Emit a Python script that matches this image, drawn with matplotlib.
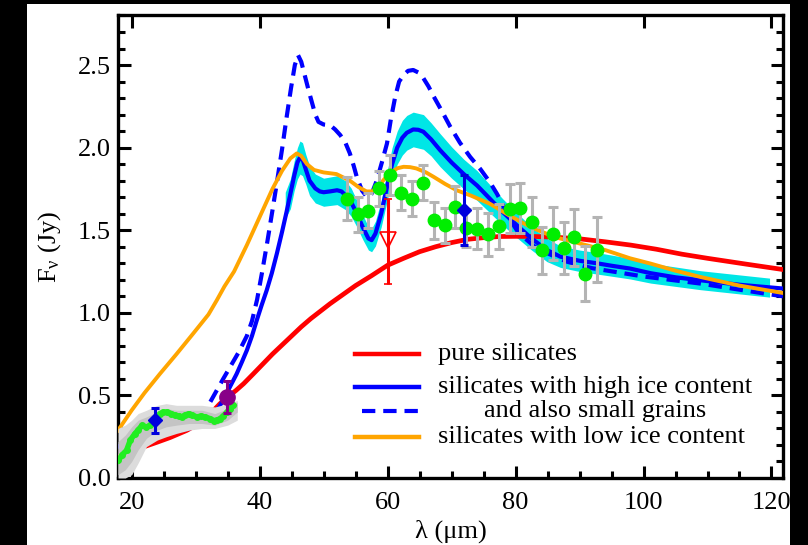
import numpy as np
import matplotlib.pyplot as plt
from matplotlib.patches import Rectangle
from matplotlib.lines import Line2D
from matplotlib.ticker import MultipleLocator

plt.rcParams['font.family'] = 'Liberation Serif'
plt.rcParams['mathtext.fontset'] = 'custom'
plt.rcParams['mathtext.rm'] = 'Liberation Serif'
plt.rcParams['mathtext.it'] = 'Liberation Serif:italic'

# model: pure silicates
red_x = [17.86, 20, 22, 24, 26, 28.6, 30.5, 32.2, 33.8, 35, 36.3, 37.5, 39, 40.5, 42, 43.5,
         45, 46.5, 48, 49.5, 51, 53, 55, 57.5, 60, 62.5, 65, 67.5, 70, 72.5, 75, 77.5, 80,
         83, 86, 90, 94, 98, 102, 106, 110, 116, 121.8]
red_y = [0.13, 0.16, 0.19, 0.217, 0.245, 0.288, 0.33, 0.385, 0.45, 0.49, 0.53, 0.571,
         0.63, 0.69, 0.75, 0.805, 0.86, 0.915, 0.965, 1.01, 1.055, 1.11, 1.165, 1.225,
         1.288, 1.33, 1.37, 1.40, 1.425, 1.445, 1.455, 1.462, 1.463, 1.462, 1.458, 1.448,
         1.43, 1.41, 1.385, 1.355, 1.33, 1.295, 1.262]

# model: high ice content
blue_x = [17.86, 20, 22, 25.5, 29, 31, 32.5, 33.7, 34.8, 35.6, 36.4, 37.2, 38.0, 38.8,
          39.55, 40.3, 41.1, 41.9, 42.7, 43.5, 44.2, 44.8, 45.4, 45.9, 46.3, 46.7, 47.2,
          47.8, 48.7, 49.4, 50.0, 51.0, 52.1, 52.8, 53.4, 54.3, 55.2, 56.1, 57.0, 57.5,
          58.1, 59.0, 59.9, 60.7, 61.5, 62.3, 63.0, 64.0, 64.8, 65.6, 66.8, 68.2, 70.0,
          71.9, 74.0, 76.0, 78.0, 80.2, 82.5, 84.9, 87.0, 90.0, 92.7, 95.0, 97.9, 101.1,
          105.0, 108.9, 115.0, 121.8]
blue_y = [0.19, 0.215, 0.24, 0.27, 0.30, 0.33, 0.37, 0.43, 0.51, 0.57, 0.63, 0.70, 0.773,
          0.86, 0.955, 1.045, 1.136, 1.24, 1.36, 1.49, 1.61, 1.72, 1.83, 1.91, 1.94, 1.93,
          1.87, 1.80, 1.753, 1.735, 1.73, 1.735, 1.742, 1.735, 1.712, 1.67, 1.60, 1.52,
          1.45, 1.44, 1.48, 1.60, 1.762, 1.90, 2.0, 2.06, 2.09, 2.11, 2.108, 2.096, 2.05,
          1.985, 1.91, 1.84, 1.77, 1.69, 1.61, 1.53, 1.45, 1.38, 1.34, 1.315, 1.30, 1.285,
          1.268, 1.24, 1.215, 1.197, 1.17, 1.147]

# uncertainty band of the high ice model
band_x = [44.0, 44.8, 45.4, 45.9, 46.3, 46.7, 47.2, 47.8, 48.7, 50.0, 52.1, 53.4, 54.3,
          55.2, 56.1, 57.0, 57.5, 58.1, 59.0, 59.9, 60.7, 61.5, 62.3, 63.0, 64.0, 65.6,
          66.8, 68.2, 70.0, 71.9, 74.0, 76.0, 78.0, 80.2, 82.5, 84.9, 87.0, 90.0, 92.7,
          97.9, 101.1, 108.9, 119.7]
band_lo = [1.57, 1.63, 1.74, 1.81, 1.84, 1.83, 1.78, 1.71, 1.665, 1.645, 1.655, 1.625,
           1.585, 1.52, 1.445, 1.38, 1.37, 1.405, 1.52, 1.675, 1.805, 1.90, 1.955, 1.985,
           2.005, 1.99, 1.95, 1.885, 1.815, 1.75, 1.68, 1.605, 1.53, 1.455, 1.38, 1.31,
           1.275, 1.25, 1.235, 1.205, 1.18, 1.14, 1.095]
band_hi = [1.73, 1.81, 1.92, 2.0, 2.04, 2.03, 1.96, 1.89, 1.84, 1.815, 1.83, 1.80, 1.755,
           1.68, 1.595, 1.52, 1.51, 1.555, 1.68, 1.85, 2.0, 2.10, 2.165, 2.195, 2.215,
           2.20, 2.15, 2.085, 2.005, 1.93, 1.86, 1.775, 1.69, 1.605, 1.52, 1.45, 1.405,
           1.38, 1.365, 1.33, 1.30, 1.255, 1.21]

# model: high ice + small grains
dash_x = [17.86, 22, 25.5, 29, 31.7, 33, 34.3, 35.5, 36.7, 38.0, 38.8, 39.6, 40.4, 41.2,
          42.0, 42.7, 43.5, 44.2, 44.9, 45.5, 46.0, 46.5, 47.1, 47.7, 48.2, 48.7, 49.2,
          50.0, 51.0, 51.8, 52.6, 53.4, 54.1, 54.7, 55.2, 56.0, 56.8, 57.5, 58.3, 59.1,
          59.9, 60.5, 61.2, 61.8, 62.5, 63.2, 64.0, 64.8, 65.6, 66.4, 67.2, 68.5, 69.8,
          71.3, 72.9, 74.5, 76.0, 77.1, 78.2, 79.2, 80.2, 81.5, 83.0, 85.0, 88.0, 92.0,
          96.0, 100.0, 108.9, 115.0, 121.8]
dash_y = [0.19, 0.24, 0.27, 0.32, 0.42, 0.51, 0.60, 0.68, 0.76, 0.86, 0.95, 1.08, 1.25,
          1.43, 1.62, 1.79, 1.99, 2.18, 2.36, 2.50, 2.56, 2.52, 2.43, 2.34, 2.27, 2.20,
          2.156, 2.14, 2.136, 2.11, 2.076, 2.03, 1.965, 1.89, 1.82, 1.74, 1.70, 1.72, 1.80,
          1.91, 2.025, 2.17, 2.31, 2.40, 2.44, 2.465, 2.47, 2.455, 2.42, 2.37, 2.31, 2.22,
          2.126, 2.03, 1.944, 1.87, 1.79, 1.72, 1.64, 1.56, 1.50, 1.45, 1.40, 1.36, 1.31,
          1.27, 1.245, 1.22, 1.177, 1.14, 1.10]

# model: low ice content
orange_x = [17.86, 20, 22, 24.4, 27, 29.6, 32, 33.3, 34.5, 36, 38, 40, 42, 43.5, 44.8, 45.8,
            46.5, 47.4, 48.5, 50, 52, 54.1, 55.5, 56.7, 57.5, 58.3, 59.5, 60.4, 61.5, 62.5,
            63.5, 64.5, 66, 67.2, 69, 70.8, 73, 76, 79, 82.3, 86, 90, 94, 97.9, 101.1, 105,
            108.9, 115, 121.8]
orange_y = [0.288, 0.41, 0.515, 0.63, 0.75, 0.874, 0.99, 1.076, 1.16, 1.25, 1.41,
            1.58, 1.75, 1.86, 1.935, 1.965, 1.95, 1.90, 1.865, 1.85, 1.84, 1.80, 1.76,
            1.735, 1.735, 1.753, 1.81, 1.844, 1.875, 1.884, 1.882, 1.874, 1.85, 1.823, 1.78,
            1.742, 1.71, 1.66, 1.59, 1.52, 1.46, 1.42, 1.38, 1.33, 1.298, 1.255, 1.217,
            1.165, 1.12]

# IRS spectrum with uncertainty bands
irs_x = [17.9, 18.5, 19.2, 19.8, 20.5, 21.0, 21.6, 22.3, 22.9, 23.4, 23.9, 24.4, 24.9,
         25.5, 26.2, 26.8, 27.4, 27.8, 28.3, 28.9, 29.5, 30.2, 30.8, 31.5, 32.2, 32.8,
         33.3, 33.8, 34.3, 34.9, 35.4, 35.9]
irs_y = [0.106, 0.14, 0.167, 0.23, 0.268, 0.29, 0.318, 0.308, 0.32, 0.338, 0.36, 0.389,
         0.399, 0.399, 0.39, 0.379, 0.375, 0.369, 0.38, 0.389, 0.38, 0.369, 0.375, 0.369,
         0.36, 0.348, 0.35, 0.359, 0.375, 0.399, 0.42, 0.44]
irs_band_x = [17.86, 19.0, 20.0, 21.0, 22.3, 24.0, 25.4, 27.0, 29.0, 31.0, 33.0, 35.0, 36.5]
irs_out_lo = [0.0, 0.0, 0.02, 0.09, 0.19, 0.23, 0.25, 0.27, 0.29, 0.30, 0.30, 0.32, 0.35]
irs_out_hi = [0.30, 0.32, 0.35, 0.39, 0.41, 0.44, 0.45, 0.44, 0.44, 0.44, 0.43, 0.45, 0.47]
irs_in_lo = [0.02, 0.05, 0.10, 0.17, 0.24, 0.29, 0.31, 0.32, 0.33, 0.33, 0.32, 0.35, 0.40]
irs_in_hi = [0.22, 0.26, 0.31, 0.35, 0.37, 0.40, 0.42, 0.41, 0.41, 0.41, 0.39, 0.42, 0.46]

# PACS spectrum points
pacs_x = [53.6, 55.35, 57.0, 58.7, 60.4, 62.15, 63.8, 65.5, 67.2, 68.9, 70.6, 72.3, 74.0,
          75.7, 77.35, 79.1, 80.7, 82.5, 84.1, 85.9, 87.5, 89.2, 90.9, 92.7]
pacs_y = [1.692, 1.597, 1.617, 1.753, 1.833, 1.726, 1.692, 1.787, 1.56, 1.53, 1.641,
          1.514, 1.51, 1.476, 1.524, 1.631, 1.635, 1.55, 1.379, 1.48, 1.393, 1.456, 1.237,
          1.383]
pacs_err = [0.131, 0.106, 0.106, 0.106, 0.121, 0.106, 0.106, 0.106, 0.111, 0.106, 0.126,
            0.116, 0.126, 0.131, 0.136, 0.146, 0.15, 0.15, 0.141, 0.16, 0.158, 0.17, 0.167,
            0.197]

# photometry
phot_blue_x = [23.6, 71.9]
phot_blue_y = [0.35, 1.62]
phot_blue_err = [0.076, 0.212]
phot_purple_x = [34.86]
phot_purple_y = [0.49]
phot_purple_err = [0.095]
phot_red_x = [60.0]
phot_red_y = [1.44]
phot_red_lo = [0.263]
phot_red_hi = [0.252]

fig = plt.figure(figsize=(8.08, 5.45), dpi=100, facecolor='black')
fig.patches.append(Rectangle((27 / 808, 0), (790 - 27) / 808, 541 / 545,
                             transform=fig.transFigure, facecolor='white',
                             edgecolor='none', zorder=-5))
ax = fig.add_axes([118 / 808, 1 - 478 / 545, 665 / 808, 463 / 545])
ax.set_zorder(1)
ax.set_facecolor('white')

ax.fill_between(band_x, band_lo, band_hi, color='#00e6e6', lw=0, zorder=2)
ax.plot(red_x, red_y, color='#ff0000', lw=3.4, zorder=3)
ax.plot(blue_x, blue_y, color='#0000ff', lw=3.0, zorder=3)
ax.plot(dash_x, dash_y, color='#0000ff', lw=3.0, ls=(0, (3.2, 1.9)), zorder=3)
ax.plot(orange_x, orange_y, color='#ffa500', lw=2.8, zorder=3)

ax.fill_between(irs_band_x, irs_out_lo, irs_out_hi, color='#dcdcdc', lw=0, zorder=4)
ax.fill_between(irs_band_x, irs_in_lo, irs_in_hi, color='#c4c4c4', lw=0, zorder=4)
ax.plot(irs_x, irs_y, color='#22ee22', lw=4.0, marker='o', ms=4, zorder=5)

ax.errorbar(pacs_x, pacs_y, yerr=pacs_err, fmt='o', color='#00ee00', ms=9,
            ecolor='#b4b4b4', elinewidth=2.2, capsize=3.5, capthick=2.2, zorder=6)
ax.errorbar(phot_blue_x, phot_blue_y, yerr=phot_blue_err, fmt='D', color='#0000dd',
            ms=7, elinewidth=2.2, capsize=3, capthick=2.2, zorder=7)
ax.errorbar(phot_purple_x, phot_purple_y, yerr=phot_purple_err, fmt='o', color='#880088',
            ms=11, elinewidth=2.2, capsize=3, capthick=2.2, zorder=7)
ax.errorbar(phot_red_x, phot_red_y, yerr=[phot_red_lo, phot_red_hi], fmt='v',
            color='#ff0000', mfc='none', mec='#ff0000', ms=12, mew=1.2,
            elinewidth=2.2, capsize=3, capthick=2.2, zorder=7)

ax.set_xlim(17.86, 121.8)
ax.set_ylim(0, 2.803)
ax.xaxis.set_major_locator(MultipleLocator(20))
ax.xaxis.set_minor_locator(MultipleLocator(5))
ax.yaxis.set_major_locator(MultipleLocator(0.5))
ax.yaxis.set_minor_locator(MultipleLocator(0.1))
ax.yaxis.set_major_formatter(plt.FormatStrFormatter('%.1f'))
ax.tick_params(which='both', direction='in', width=2.2, colors='black', labelsize=19)
ax.tick_params(which='major', length=9)
ax.tick_params(which='minor', length=5)
ax.tick_params(axis='y', which='both', left=True, right=True, pad=5)
ax.tick_params(axis='x', which='major', top=True, bottom=True, pad=10)
ax.tick_params(axis='x', which='minor', top=False, bottom=True)
for s in ax.spines.values():
    s.set_linewidth(2.4)

ax.set_xlabel('λ (μm)', fontsize=19, labelpad=4)
ax.set_ylabel(r'F$_{\mathrm{\nu}}$ (Jy)', fontsize=19, labelpad=11)

# legend drawn by hand to get the centred second line
leg_items = [('#ff0000', '-', 354, 'pure silicates'),
             ('#0000ff', '-', 387, 'silicates with high ice content'),
             ('#0000ff', '--', 411, None),
             ('#ffa500', '-', 436.7, 'silicates with low ice content')]
tr = fig.transFigure
for col, ls, ypx, lab in leg_items:
    yf = 1 - ypx / 545
    if ls == '--':
        fig.add_artist(Line2D([362 / 808, 419 / 808], [yf, yf], color=col, lw=3.0,
                              ls=(0, (3.2, 1.9)), transform=tr, zorder=5))
    else:
        fig.add_artist(Line2D([355 / 808, 419 / 808], [yf, yf], color=col, lw=3.2,
                              transform=tr, zorder=5))
    if lab:
        fig.text(438 / 808, yf, lab, fontsize=19, va='center', ha='left', zorder=5)
fig.text(595 / 808, 1 - 411 / 545, 'and also small grains', fontsize=19,
         va='center', ha='center', zorder=5)

fig.savefig('out.png', dpi=100, facecolor='black')
